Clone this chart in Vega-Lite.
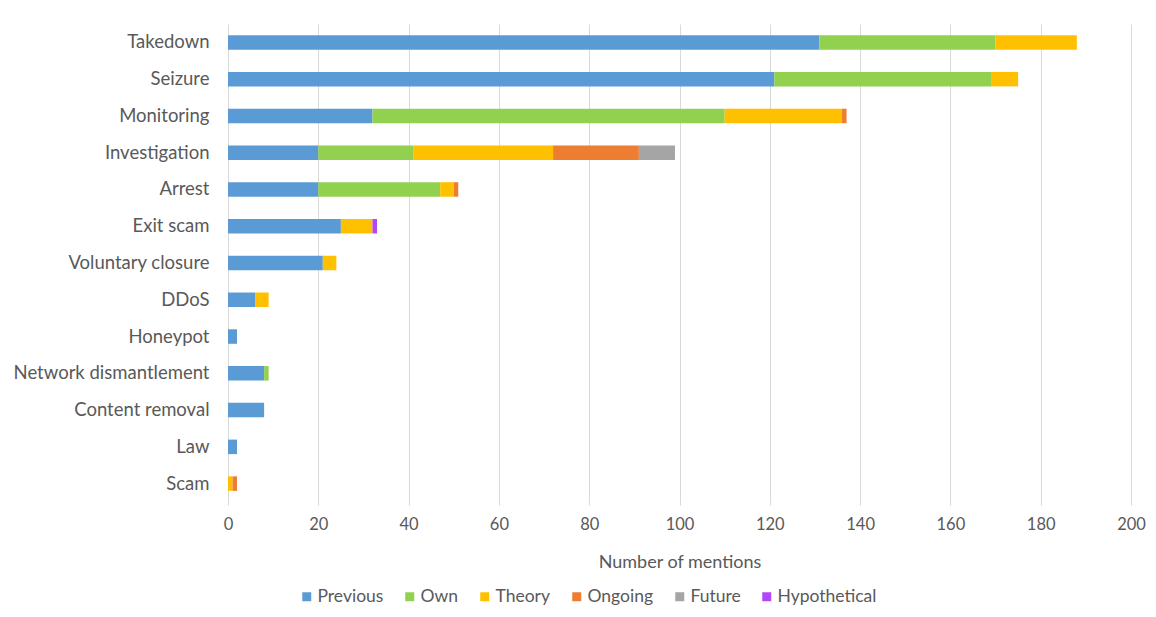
{
  "$schema": "https://vega.github.io/schema/vega-lite/v6.json",
  "width": 903,
  "height": 478,
  "autosize": {"type": "none"},
  "padding": {"left": 228, "top": 24, "right": 25, "bottom": 115},
  "background": "white",
  "data": {
    "values": [
      {"category": "Takedown", "type": "Previous", "value": 131},
      {"category": "Takedown", "type": "Own", "value": 39},
      {"category": "Takedown", "type": "Theory", "value": 18},
      {"category": "Seizure", "type": "Previous", "value": 121},
      {"category": "Seizure", "type": "Own", "value": 48},
      {"category": "Seizure", "type": "Theory", "value": 6},
      {"category": "Monitoring", "type": "Previous", "value": 32},
      {"category": "Monitoring", "type": "Own", "value": 78},
      {"category": "Monitoring", "type": "Theory", "value": 26},
      {"category": "Monitoring", "type": "Ongoing", "value": 1},
      {"category": "Investigation", "type": "Previous", "value": 20},
      {"category": "Investigation", "type": "Own", "value": 21},
      {"category": "Investigation", "type": "Theory", "value": 31},
      {"category": "Investigation", "type": "Ongoing", "value": 19},
      {"category": "Investigation", "type": "Future", "value": 8},
      {"category": "Arrest", "type": "Previous", "value": 20},
      {"category": "Arrest", "type": "Own", "value": 27},
      {"category": "Arrest", "type": "Theory", "value": 3},
      {"category": "Arrest", "type": "Ongoing", "value": 1},
      {"category": "Exit scam", "type": "Previous", "value": 25},
      {"category": "Exit scam", "type": "Theory", "value": 7},
      {"category": "Exit scam", "type": "Hypothetical", "value": 1},
      {"category": "Voluntary closure", "type": "Previous", "value": 21},
      {"category": "Voluntary closure", "type": "Theory", "value": 3},
      {"category": "DDoS", "type": "Previous", "value": 6},
      {"category": "DDoS", "type": "Theory", "value": 3},
      {"category": "Honeypot", "type": "Previous", "value": 2},
      {"category": "Network dismantlement", "type": "Previous", "value": 8},
      {"category": "Network dismantlement", "type": "Own", "value": 1},
      {"category": "Content removal", "type": "Previous", "value": 8},
      {"category": "Law", "type": "Previous", "value": 2},
      {"category": "Scam", "type": "Theory", "value": 1},
      {"category": "Scam", "type": "Ongoing", "value": 1}
    ]
  },
  "transform": [
    {"calculate": "indexof(['Previous', 'Own', 'Theory', 'Ongoing', 'Future', 'Hypothetical'], datum.type)", "as": "stackOrder"}
  ],
  "mark": {"type": "bar", "size": 14.5},
  "encoding": {
    "y": {
      "field": "category",
      "type": "nominal",
      "sort": ["Takedown", "Seizure", "Monitoring", "Investigation", "Arrest", "Exit scam", "Voluntary closure", "DDoS", "Honeypot", "Network dismantlement", "Content removal", "Law", "Scam"],
      "scale": {"paddingInner": 0, "paddingOuter": 0},
      "axis": {
        "title": null,
        "domain": false,
        "ticks": false,
        "grid": false,
        "labelPadding": 19,
        "labelLimit": 300,
        "labelFontSize": 18.5,
        "labelFont": "Lato",
        "labelColor": "#595959"
      }
    },
    "x": {
      "field": "value",
      "type": "quantitative",
      "aggregate": "sum",
      "stack": "zero",
      "scale": {"domain": [0, 200], "nice": false},
      "axis": {
        "title": "Number of mentions",
        "values": [0, 20, 40, 60, 80, 100, 120, 140, 160, 180, 200],
        "domain": false,
        "ticks": true,
        "tickSize": 3,
        "tickColor": "#D9D9D9",
        "grid": true,
        "gridColor": "#D9D9D9",
        "gridWidth": 1,
        "labelFlush": false,
        "labelPadding": 11,
        "labelFontSize": 16.5,
        "labelFont": "Lato",
        "labelColor": "#595959",
        "titleFont": "Lato",
        "titleFontSize": 18,
        "titleFontWeight": "normal",
        "titleColor": "#595959",
        "titlePadding": 21
      }
    },
    "color": {
      "field": "type",
      "type": "nominal",
      "sort": ["Previous", "Own", "Theory", "Ongoing", "Future", "Hypothetical"],
      "scale": {
        "domain": ["Previous", "Own", "Theory", "Ongoing", "Future", "Hypothetical"],
        "range": ["#5B9BD5", "#92D050", "#FFC000", "#ED7D31", "#A5A5A5", "#B048F8"]
      },
      "legend": {
        "title": null,
        "orient": "none",
        "direction": "horizontal",
        "legendX": 70,
        "legendY": 564,
        "gridAlign": "none",
        "symbolType": "square",
        "symbolSize": 81,
        "symbolStrokeWidth": 0,
        "symbolOffset": 0,
        "labelFont": "Lato",
        "labelFontSize": 17.5,
        "labelColor": "#595959",
        "labelOffset": 2,
        "columnPadding": 17
      }
    },
    "order": {"field": "stackOrder", "type": "quantitative"}
  },
  "config": {
    "view": {"stroke": null}
  }
}
